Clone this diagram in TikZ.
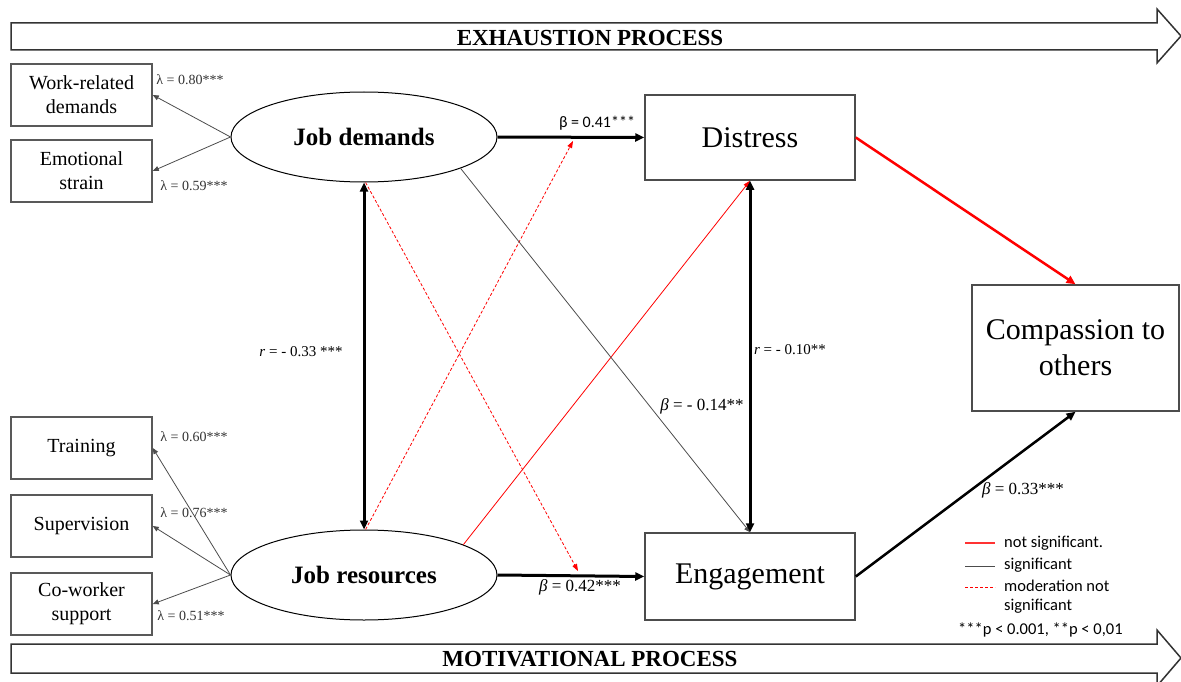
\documentclass[tikz,border=0pt]{standalone}
\usepackage{fontspec}
\setmainfont{LiberationSerif}[Extension=.ttf, UprightFont=*-Regular, BoldFont=*-Bold, ItalicFont=*-Italic, BoldItalicFont=*-BoldItalic]
\newfontfamily\timesfont{LiberationSerif}[Extension=.ttf, UprightFont=*-Regular, BoldFont=*-Bold, ItalicFont=*-Italic, BoldItalicFont=*-BoldItalic]
\newfontfamily\legendfont{Carlito}
\usetikzlibrary{arrows.meta,shapes.geometric}

\begin{document}
\begin{tikzpicture}[x=1pt, y=-1pt,
    indbox/.style={rectangle, draw=black!65, line width=1.5pt, minimum width=141pt, minimum height=62pt, inner sep=0pt, align=center, font=\timesfont\fontsize{20}{24}\selectfont},
    latent/.style={ellipse, draw, line width=1pt, minimum width=266pt, minimum height=90pt, inner sep=0pt, font=\timesfont\fontsize{25}{30}\selectfont\bfseries},
    outbox/.style={rectangle, draw=black!70, line width=1.5pt, inner sep=0pt, align=center, font=\timesfont\fontsize{30}{36}\selectfont},
    band/.style={draw=black!80, line width=1.5pt, fill=white},
    bandtext/.style={font=\timesfont\fontsize{23}{26}\selectfont\bfseries},
    lam/.style={font=\timesfont\fontsize{14}{16}\selectfont, text=black!80, inner sep=0pt},
    coef/.style={font=\timesfont\fontsize{17}{19}\selectfont, inner sep=0pt},
    leg/.style={font=\legendfont\fontsize{16.5}{18}\selectfont, anchor=west, inner sep=0pt},
    loadarrow/.style={draw=black!70, line width=0.8pt, -{Triangle[length=6pt,width=5pt]}},
    patharrow/.style={draw=black, line width=3pt, -{Triangle[length=9pt,width=8pt]}},
    corrarrow/.style={draw=black, line width=3pt, {Triangle[length=9pt,width=8pt]}-{Triangle[length=9pt,width=8pt]}},
    sigarrow/.style={draw=black!70, line width=0.8pt, -{Triangle[length=6pt,width=5pt]}},
    nsarrow/.style={draw=red, line width=0.8pt, -{Triangle[length=7pt,width=5pt]}},
    modarrow/.style={draw=red, line width=0.8pt, dash pattern=on 3pt off 2pt, -{Triangle[length=7pt,width=5pt]}}]

    \useasboundingbox (0,0) rectangle (1181,682);

    \draw[band] (11,23) -- (1157,23) -- (1157,9) -- (1181,36) -- (1157,63) -- (1157,50) -- (11,50) -- cycle;
    \node[bandtext] (exh) at (590,38) {EXHAUSTION PROCESS};
    \draw[band] (11,644) -- (1157,644) -- (1157,630) -- (1181,658) -- (1157,686) -- (1157,673) -- (11,673) -- cycle;
    \node[bandtext] (mot) at (590,659) {MOTIVATIONAL PROCESS};

    \node[indbox] (wrd) at (81.5,95) {Work-related\\demands};
    \node[indbox] (emo) at (81.5,171) {Emotional\\strain};
    \node[indbox] (trn) at (81.5,448) {Training};
    \node[indbox] (sup) at (81.5,526) {Supervision};
    \node[indbox] (cow) at (81.5,604) {Co-worker\\support};

    \node[latent] (jd) at (364,137) {Job demands};
    \node[latent] (jr) at (364,575) {Job resources};

    \node[outbox, minimum width=210pt, minimum height=85pt] (dis) at (750,137.5) {Distress};
    \node[outbox, minimum width=210pt, minimum height=87pt] (eng) at (750,576.5) {Engagement};
    \node[outbox, minimum width=207pt, minimum height=126pt] (cmp) at (1075.5,348) {Compassion to\\others};

    \coordinate (m1) at (573,141);
    \coordinate (m2) at (578,571);

    \draw[loadarrow] (jd.west) -- (wrd.east);
    \draw[loadarrow] (jd.west) -- (emo.east);
    \draw[loadarrow] (jr.west) -- (trn.east);
    \draw[loadarrow] (jr.west) -- (sup.east);
    \draw[loadarrow] (jr.west) -- (cow.east);

    \node[lam] (l1) at (190,80) {λ = 0.80***};
    \node[lam] (l2) at (194,186) {λ = 0.59***};
    \node[lam] (l3) at (194,437) {λ = 0.60***};
    \node[lam] (l4) at (194,513) {λ = 0.76***};
    \node[lam] (l5) at (191,616) {λ = 0.51***};

    \draw[modarrow] (jd.-88) -- (m2);
    \draw[modarrow] (jr.88) -- (m1);
    \draw[nsarrow] (jr.17) -- (dis.south);
    \draw[sigarrow] (jd.-18) -- (eng.north);

    \draw[patharrow] (jd.east) -- (dis.west);
    \draw[patharrow] (jr.east) -- (eng.west);
    \draw[corrarrow] (jd.south) -- (jr.north);
    \draw[corrarrow] (dis.south) -- (eng.north);
    \draw[draw=red, line width=2.5pt, -{Triangle[length=9pt,width=8pt]}] (dis.east) -- (cmp.north);
    \draw[line width=2.5pt, -{Triangle[length=9pt,width=8pt]}] (eng.east) -- (cmp.south);

    \node[font=\legendfont\fontsize{16}{18}\selectfont, inner sep=0pt] (b1) at (597,123) {β = 0.41***};
    \node[coef] (b2) at (580,587) {{\itshape β} = 0.42***};
    \node[coef] (b3) at (702,406) {{\itshape β} = - 0.14**};
    \node[coef] (b4) at (1023,490) {{\itshape β} = 0.33***};
    \node[coef, font=\timesfont\fontsize{15}{17}\selectfont] (r1) at (301,352) {{\itshape r} = - 0.33 ***};
    \node[coef, font=\timesfont\fontsize{15}{17}\selectfont] (r2) at (790,350) {{\itshape r} = - 0.10**};

    \draw[red!80, line width=1.5pt] (965,543) -- (995,543);
    \node[leg] (t1) at (1004,543) {not significant.};
    \draw[black!70, line width=1pt] (965,566) -- (995,566);
    \node[leg] (t2) at (1004,565) {significant};
    \draw[red, line width=1pt, dash pattern=on 3pt off 2pt] (965,587) -- (995,587);
    \node[leg] (t3) at (1004,586) {moderation not};
    \node[leg] (t4) at (1004,606) {significant};
    \node[leg] (t5) at (958,630) {***p < 0.001, **p < 0,01};
\end{tikzpicture}
\end{document}
